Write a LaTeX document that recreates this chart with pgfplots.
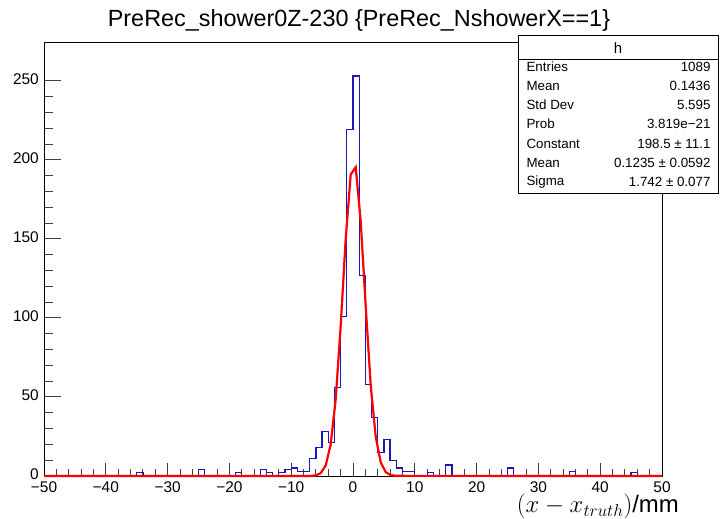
\documentclass[border=0pt]{standalone}
\usepackage{fontspec}
\setmainfont{Liberation Sans}
\usepackage{pgfplots}
\pgfplotsset{compat=1.18}
\usepackage{pgfplotstable}
\definecolor{rootblue}{rgb}{0.1,0.1,0.72}

\pgfplotstableread{
x y
-50 0
-49 0
-48 0
-47 0
-46 0
-45 0
-44 0
-43 0
-42 0
-41 0
-40 0
-39 0
-38 0
-37 0
-36 0
-35 2
-34 0
-33 0
-32 0
-31 0
-30 0
-29 0
-28 0
-27 0
-26 0
-25 4
-24 0
-23 0
-22 0
-21 0
-20 0
-19 2
-18 0
-17 0
-16 0
-15 4
-14 2
-13 0
-12 2
-11 4
-10 5
-9 3
-8 3
-7 11
-6 18
-5 28
-4 21
-3 56
-2 101
-1 219
0 253
1 127
2 58
3 37
4 15
5 23
6 10
7 5
8 3
9 3
10 0
11 0
12 2
13 0
14 0
15 7
16 0
17 0
18 0
19 0
20 0
21 0
22 0
23 0
24 0
25 5
26 0
27 0
28 0
29 0
30 0
31 0
32 0
33 0
34 0
35 3
36 0
37 0
38 0
39 0
40 0
41 0
42 0
43 0
44 0
45 2
46 0
47 0
48 0
49 0
50 0
}\histtable

\pgfplotstableread{
x y
-50 0
-6.85 0.05
-6.04 0.380
-5.23 1.766
-4.42 6.614
-3.61 19.97
-2.80 48.55
-1.99 95.09
-1.18 150.03
-0.37 190.69
0.44 195.25
1.25 161.05
2.06 107.01
2.87 57.27
3.68 24.70
4.49 8.58
5.30 2.40
6.11 0.541
6.92 0.098
50 0
}\fittable

\begin{document}
\begin{tikzpicture}
\useasboundingbox (0,0) rectangle (720bp,519bp);
\begin{axis}[
  at={(44bp,43bp)}, anchor=south west,
  scale only axis, width=618bp, height=434bp,
  xmin=-50, xmax=50, ymin=0, ymax=274.5,
  xtick={-50,-40,...,50},
  xticklabels={−50,−40,−30,−20,−10,0,10,20,30,40,50},
  ytick={0,50,...,250},
  minor x tick num=4, minor y tick num=4,
  tick align=inside, tick pos=left,
  major tick length=17bp, minor tick length=9bp,
  x tick style={/pgfplots/major tick length=13bp, /pgfplots/minor tick length=7bp},
  axis line style={black, line width=0.9bp},
  every tick/.style={black!75, line width=0.9bp},
  /pgf/number format/assume math mode=true,
  tick label style={font=\fontsize{15.5}{18}\selectfont, inner sep=1bp},
  xticklabel style={yshift=-5bp},
  yticklabel style={xshift=-4bp, yshift=1.5bp},
  clip=false,
]
\addplot[rootblue, line width=1.3bp, const plot mark left] table[x=x,y=y]{\histtable};
\addplot[red, line width=2.2bp] table[x=x,y=y]{\fittable};
\end{axis}
% title
\node[font=\fontsize{23.5}{28}\selectfont] at (359bp,499bp) {PreRec\_shower0Z-230 \{PreRec\_NshowerX==1\}};
% stats box
\begin{scope}[font=\fontsize{13.4}{16}\selectfont]
\draw[black, line width=0.8bp, fill=white] (518bp,326bp) rectangle (718bp,484bp);
\draw[black, line width=0.8bp] (518bp,460bp) -- (718bp,460bp);
\node[font=\fontsize{15}{18}\selectfont] at (618bp,471bp) {h};
\foreach \yy/\lab/\val in {452/Entries/1089, 433/Mean/0.1436, 414/Std Dev/5.595, 395/Prob/3.819e−21, 375/Constant/198.5 ± 11.1, 356/Mean/0.1235 ± 0.0592, 337/Sigma/1.742 ± 0.077}{
  \node[anchor=west] at (523bp,\yy bp) {\lab};
  \node[anchor=east] at (714bp,\yy bp) {\val};
}
\end{scope}
% x label
\node[anchor=base east, inner sep=0pt, font=\fontsize{24}{29}\selectfont] at (679bp,6.5bp) {$(x-x_{truth})$/mm};
\end{tikzpicture}
\end{document}
